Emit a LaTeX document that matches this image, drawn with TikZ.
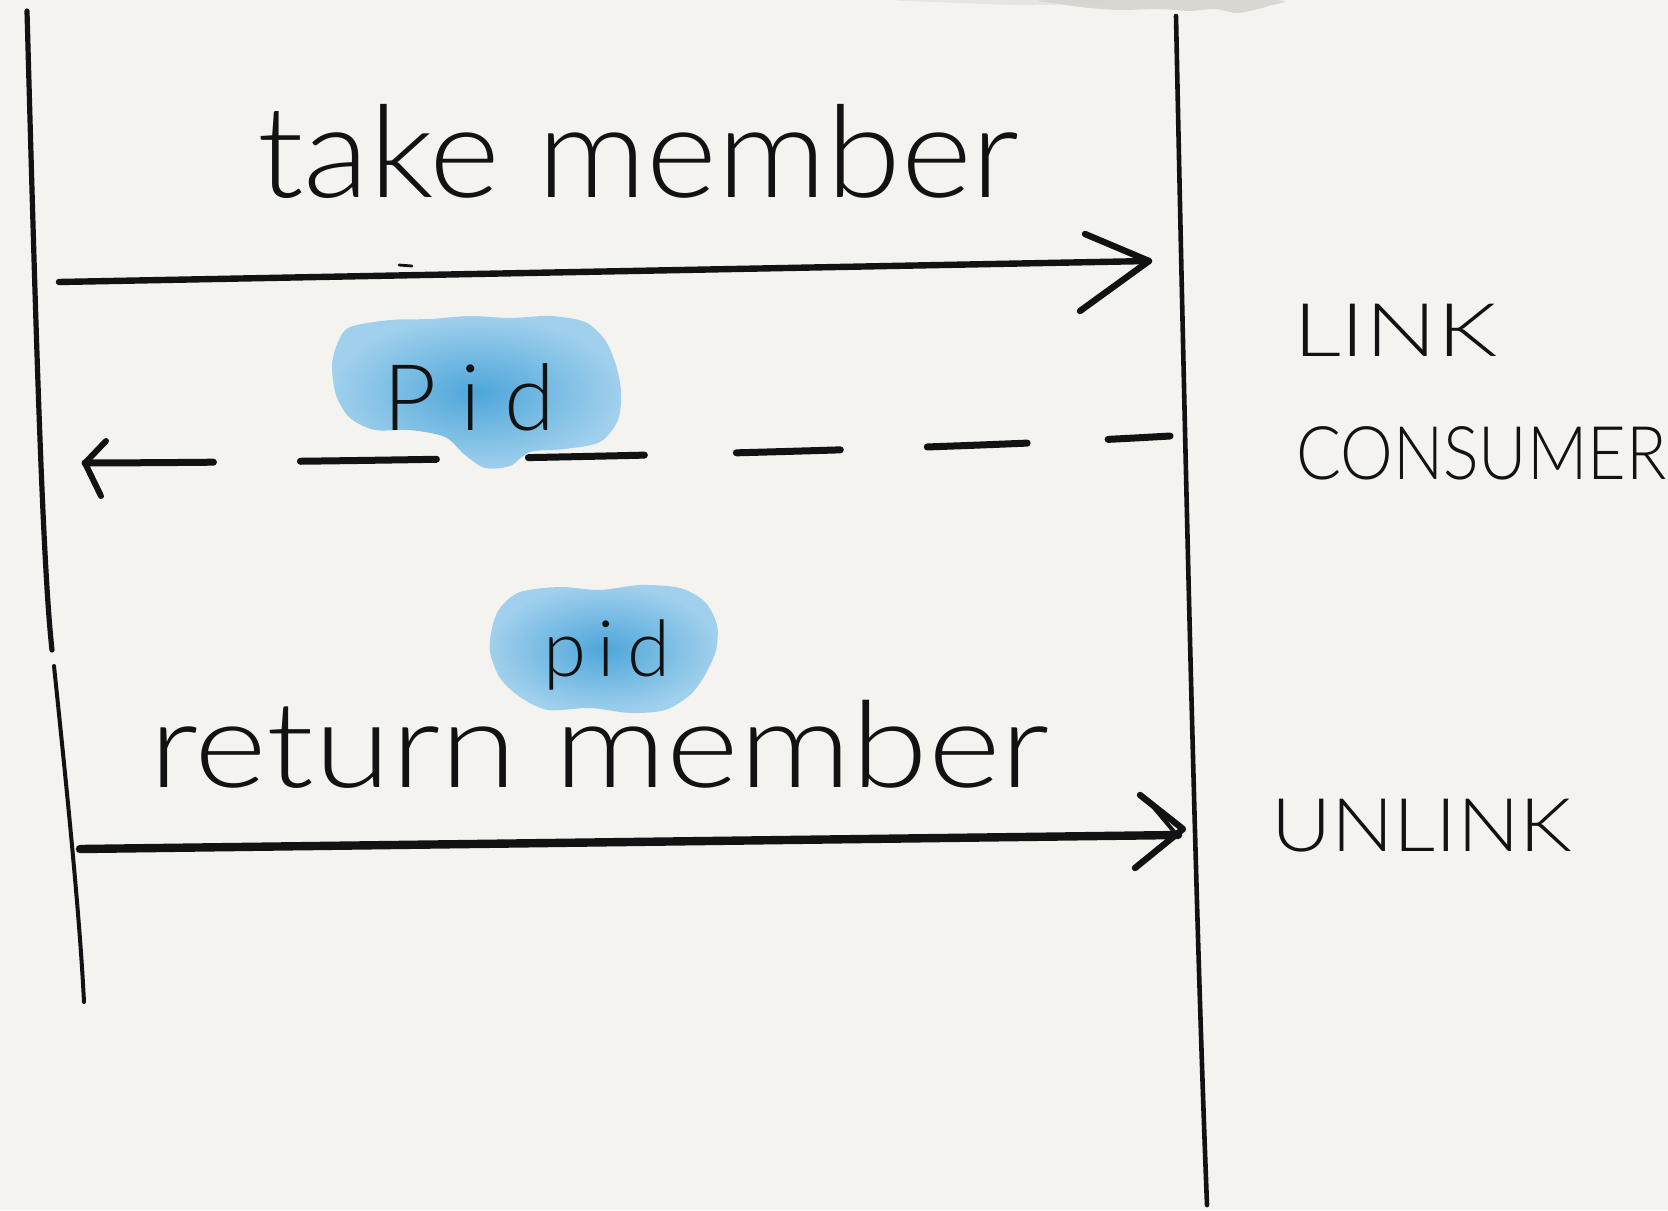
\documentclass[tikz,border=0pt]{standalone}
\usepackage{fontspec}
\setmainfont{Lato}[UprightFont={* Light}]
\usepackage{graphicx}
\definecolor{paper}{RGB}{244,243,239}
\definecolor{inkc}{RGB}{18,18,18}
\definecolor{blobIn}{RGB}{78,166,218}
\definecolor{blobOut}{RGB}{160,208,236}
\definecolor{smudge}{RGB}{214,212,207}
\tikzset{
  ink/.style={draw=inkc, line cap=round, line join=round},
  lifeline/.style={ink, line width=2.3pt},
  msg/.style={ink, line width=3.2pt},
  lbl/.style={inner sep=0pt, outer sep=0pt, text=inkc},
  wash/.style={inner color=blobIn, outer color=blobOut}
}
\begin{document}
\begin{tikzpicture}[x=0.5pt, y=-0.5pt]
  % paper
  \fill[paper] (0,0) rectangle (1668,1210);
  \useasboundingbox (0,0) rectangle (1668,1210);

  % grey smudge along the top edge
  \fill[smudge, opacity=0.45] plot[smooth cycle] coordinates {
    (900,0) (1100,0) (1080,4) (1020,5) (960,3)};
  \fill[smudge, opacity=0.9] plot[smooth cycle] coordinates {
    (1050,0) (1272,0) (1268,6) (1250,11) (1235,13) (1215,9) (1190,11)
    (1160,9) (1120,10) (1090,8) (1060,4)};

  % colour washes behind the pid labels
  \shade[wash] plot[smooth cycle] coordinates {
    (350,327) (390,320) (430,319) (470,316) (510,318) (550,316) (585,322)
    (605,340) (616,365) (621,392) (618,420) (600,442) (565,449) (530,452)
    (510,466) (485,468) (465,455) (445,437) (410,430) (375,430) (350,418)
    (336,395) (332,365) (338,342)};
  \shade[wash] plot[smooth cycle] coordinates {
    (500,608) (520,592) (560,587) (600,590) (640,585) (680,588) (705,602)
    (717,625) (716,650) (705,675) (690,695) (665,710) (630,713) (590,708)
    (548,710) (520,697) (500,678) (490,652) (492,628)};

  % lifelines
  \coordinate (Ltop) at (27,11);
  \coordinate (Lbrk) at (52,650);
  \coordinate (Lrst) at (54,666);
  \coordinate (Lbot) at (84,1002);
  \coordinate (Rtop) at (1176,16);
  \coordinate (Rbot) at (1207,1205);
  \draw[lifeline, line width=2.6pt] (Ltop) .. controls (35,300) and (42,560) .. (Lbrk);
  \draw[lifeline, line width=2pt] (Lrst) .. controls (68,800) and (80,920) .. (Lbot);
  \draw[lifeline] (Rtop) .. controls (1184,400) and (1195,900) .. (Rbot);

  % take member
  \coordinate (m1s) at (59,282);
  \coordinate (m1e) at (1149,261);
  \coordinate (m1u) at (1085,234);
  \coordinate (m1l) at (1080,311);
  \draw[msg] (m1s) -- (m1e);
  \draw[msg] (m1u) -- (m1e) -- (m1l);
  \draw[ink, line width=1.4pt] (399,265) -- (412,266);

  % pid reply (dashed)
  \coordinate (m2s) at (1170,436);
  \coordinate (m2e) at (85,463);
  \coordinate (m2u) at (106,441);
  \coordinate (m2l) at (101,496);
  \draw[msg, line width=3.5pt,
        dash pattern=on 31pt off 40.5pt on 50pt off 43.5pt on 52pt off 46pt
                     on 58pt off 46pt on 68pt off 43.5pt on 80pt off 100pt]
    (m2s) .. controls (900,452) and (400,462) .. (m2e);
  \draw[msg, line width=3pt] (m2u) -- (m2e) -- (m2l);

  % return member
  \coordinate (m3s) at (80,849);
  \coordinate (m3e) at (1183,829);
  \coordinate (m3u) at (1140,795);
  \coordinate (m3l) at (1135,868);
  \coordinate (m3v) at (1150,803);
  \draw[msg, line width=4.2pt] (m3s) -- (1178,835);
  \draw[msg, line width=3.2pt] (m3u) -- (m3e) -- (m3l);
  \draw[msg, line width=2pt] (m3v) -- (1176,834);

  % labels
  \node[lbl, anchor=base west] (take) at (257,197)
    {\fontsize{64}{70}\selectfont\scalebox{1.06}[1]{take member}};
  \node[lbl, anchor=base west] (pid1) at (383,430)
    {\fontsize{46}{50}\selectfont P\hspace{12pt}i\hspace{12pt}d};
  \node[lbl, anchor=base west] (pid2) at (543,676)
    {\fontsize{39}{46}\selectfont p\hspace{6pt}i\hspace{6pt}d};
  \node[lbl, anchor=base west] (ret) at (149,787)
    {\fontsize{60}{70}\selectfont\scalebox{1.16}[1]{return member}};
  \node[lbl, anchor=base west] (link) at (1293,356)
    {\fontsize{37}{44}\selectfont\scalebox{1.28}[1]{LINK}};
  \node[lbl, anchor=base west] (cons) at (1296,479)
    {\fontsize{37}{44}\selectfont\scalebox{0.9}[1]{CONSUMER}};
  \node[lbl, anchor=base west] (unlink) at (1271,851)
    {\fontsize{37}{44}\selectfont\scalebox{1.12}[1]{UNLINK}};
\end{tikzpicture}
\end{document}
